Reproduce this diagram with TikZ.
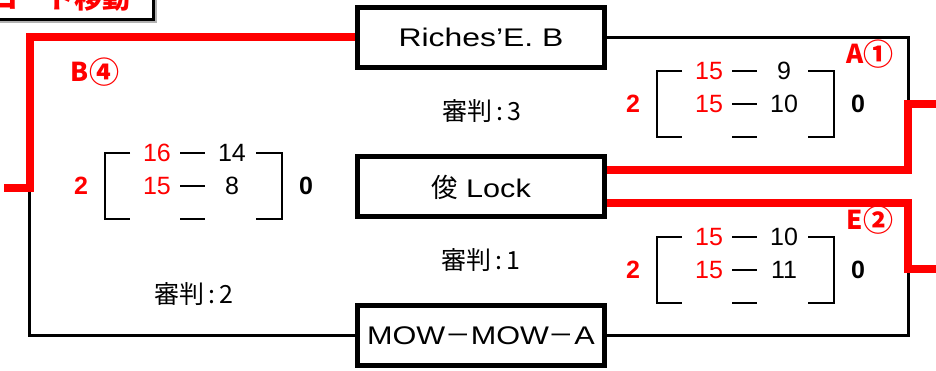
\documentclass[tikz,border=0pt]{standalone}
\usepackage{fontspec}
\setmainfont{Liberation Sans}
\newfontfamily\jp{Noto Sans CJK JP}
\newfontfamily\wide[FakeStretch=1.2]{Liberation Sans}
\usetikzlibrary{calc}
\definecolor{myred}{RGB}{255,0,0}
\tikzset{
  wire/.style={line width=3pt, black, line join=miter},
  win/.style={line width=8pt, myred, line join=miter},
  team/.style={draw, line width=5pt, minimum width=247pt, minimum height=60pt, inner sep=0pt, font=\wide\fontsize{25.5}{28}\selectfont},
  brk/.style={line width=2.8pt},
  num/.style={inner sep=0pt, font=\fontsize{25}{28}\selectfont},
  rednum/.style={num, text=myred},
  setw/.style={inner sep=0pt, font=\bfseries\fontsize{25}{28}\selectfont, text=myred},
  setl/.style={inner sep=0pt, font=\bfseries\fontsize{25}{28}\selectfont},
  seed/.style={inner sep=0pt, font=\jp\bfseries\fontsize{26}{30}\selectfont, text=myred},
  judge/.style={inner sep=0pt, font=\jp\fontsize{25}{28}\selectfont},
}
\newcommand\circnum[1]{\raisebox{-1.5pt}{\fontsize{30}{30}\selectfont #1}}
\newcommand\scoreblock[7]{%
  \begin{scope}[shift={(#2,#3)}]
    \draw[brk] (25,0) -- (0,0) -- (0,66) -- (25,66);
    \draw[brk] (151,0) -- (177,0) -- (177,66) -- (151,66);
    \node[rednum] (#1-a1) at (52,0) {#4};
    \node[num] (#1-b1) at (127,0) {#5};
    \node[rednum] (#1-a2) at (52,33) {#6};
    \node[num] (#1-b2) at (127,33) {#7};
    \coordinate (#1-a3) at (52,66);
    \coordinate (#1-b3) at (127,66);
    \draw[brk] ([xshift=23pt]#1-a1.center) -- ([xshift=-27pt]#1-b1.center);
    \draw[brk] ([xshift=23pt]#1-a2.center) -- ([xshift=-27pt]#1-b2.center);
    \draw[brk] ([xshift=23pt]#1-a3) -- ([xshift=-27pt]#1-b3);
    \node[setw] (#1-w) at (-24,33) {2};
    \node[setl] (#1-l) at (201,33) {0};
  \end{scope}}
\begin{document}
\begin{tikzpicture}[x=1pt,y=-1pt]
  \useasboundingbox (0,0) rectangle (936,371);
  % header box (cut off at the picture's edge, as in the reference)
  \node[anchor=base east, inner sep=0pt, text=myred, font=\jp\bfseries\fontsize{28}{30}\selectfont] (move) at (131,9) {コート移動};
  \draw[gray!60, line width=2pt] (156,-5) -- (156,22) -- (-5,22);
  \draw[line width=3pt] (-5,19.5) -| (153,-5);
  % team boxes
  \node[team] (R) at (481,37.5) {\addfontfeature{FakeStretch=1.25}Riches’E.\ B};
  \node[team] (L) at (481,187) {{\jp\fontsize{26.5}{28}\selectfont 俊} Lock};
  \node[team] (M) at (481,335.5) {MOW{\jp －}MOW{\jp －}A};
  % junction coordinates
  \coordinate (rj1) at (908,104);
  \coordinate (rj2) at (908,269);
  \coordinate (lj) at (29.5,188);
  \coordinate (aout) at (940,104);
  \coordinate (eout) at (940,269);
  \coordinate (bout) at (4,188);
  % black wires
  \draw[wire] (R.east) -| (rj1);
  \draw[wire] (rj2) |- (M.east);
  \draw[wire] (M.west) -| (lj);
  % red winner paths
  \draw[win] (R.west) -| (lj) -- (bout);
  \draw[win] ([yshift=17pt]L.east) -| (rj1) -- (aout);
  \draw[win] ([yshift=-16pt]L.east) -| (rj2) -- (eout);
  % score blocks
  \scoreblock{sA}{657}{71}{15}{9}{15}{10}
  \scoreblock{sE}{657}{237}{15}{10}{15}{11}
  \scoreblock{sB}{105}{153}{16}{14}{15}{8}
  % seeds
  \node[seed] (seedA) at (870,54) {A\circnum{①}};
  \node[seed] (seedE) at (870,220) {E\circnum{②}};
  \node[seed] (seedB) at (95,72) {B\circnum{④}};
  % referees
  \node[judge] (j3) at (482,111) {審判\,:\,3};
  \node[judge] (j1) at (481,260) {審判\,:\,1};
  \node[judge] (j2) at (194,294) {審判\,:\,2};
\end{tikzpicture}
\end{document}
